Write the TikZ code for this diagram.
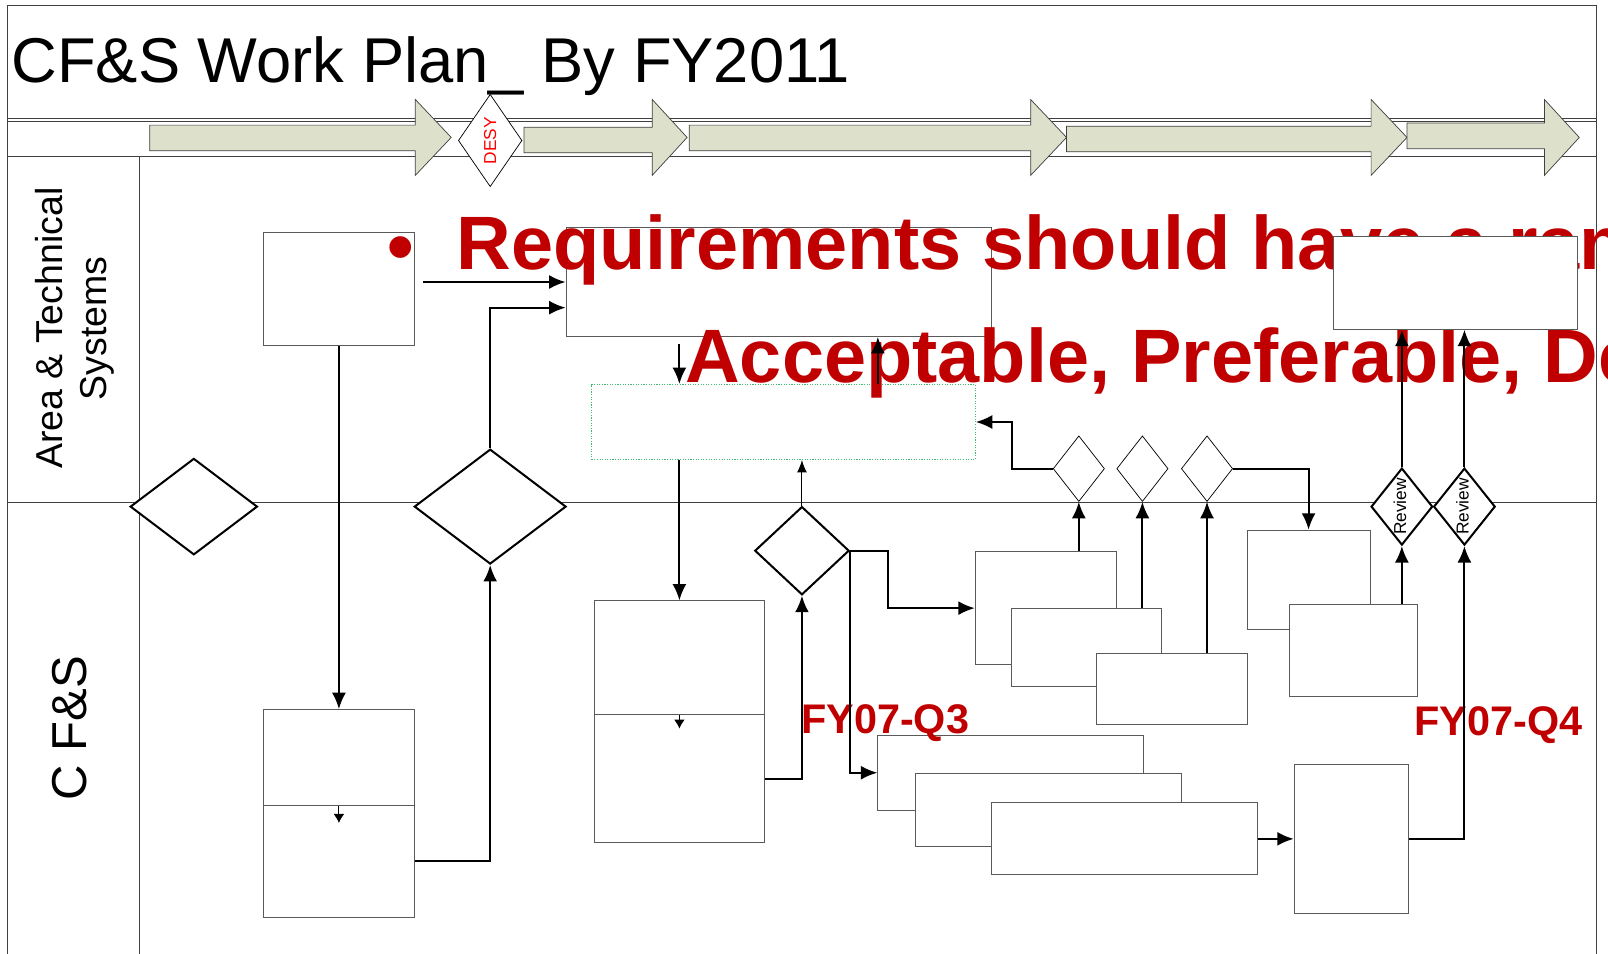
\documentclass[tikz,border=0pt]{standalone}
\usepackage{fontspec}
\setmainfont{Liberation Sans}
\usetikzlibrary{shapes.geometric, arrows.meta, fit}

\definecolor{lanegray}{RGB}{64,64,64}
\definecolor{boxgray}{RGB}{90,90,90}
\definecolor{phasefill}{RGB}{221,225,204}
\definecolor{planred}{RGB}{192,0,0}
\definecolor{dotgreen}{RGB}{60,190,110}

\begin{document}
\begin{tikzpicture}[
  x=0.025cm, y=-0.025cm,
  lane/.style={draw=lanegray, line width=0.8pt},
  phase/.style={draw=lanegray, line width=0.5pt, fill=phasefill},
  task/.style={rectangle, draw=boxgray, line width=0.7pt, fill=white, inner sep=0pt},
  draftbox/.style={rectangle, draw=dotgreen, densely dotted, line width=0.8pt, inner sep=0pt},
  decision/.style={diamond, draw, line width=1.4pt, fill=white, inner sep=0pt},
  gate/.style={diamond, draw, line width=0.5pt, fill=white, inner sep=0pt, minimum width=1.25cm, minimum height=1.6cm},
  review/.style={diamond, draw, line width=1.4pt, fill=white, inner sep=0pt, minimum width=1.5cm, minimum height=1.875cm},
  flow/.style={draw, line width=1.4pt, -{Latex[length=4mm,width=3.4mm]}},
  thinflow/.style={draw, line width=0.7pt, -{Latex[length=3mm,width=2.4mm]}},
  inner/.style={draw, line width=0.7pt, -{Latex[length=2.2mm,width=2.6mm]}},
  lanelabel/.style={rotate=90, align=center, inner sep=0pt},
  small/.style={rotate=90, inner sep=0pt, font=\fontsize{12}{14}\selectfont},
  milestone/.style={text=planred, font=\bfseries\fontsize{28.7}{32}\selectfont, anchor=base west, inner sep=0pt},
  note/.style={text=planred, font=\bfseries\fontsize{52.5}{60}\selectfont, anchor=base west, inner sep=0pt}
]
\useasboundingbox (0,0) rectangle (1568,930);

% lanes
\draw [lane] (7,930) -- (7,5) -- (1557,5) -- (1557,930);
\draw [lane] (7,115.5) -- (1557,115.5);
\draw [lane] (7,118.7) -- (1557,118.7);
\draw [lane, line width=1.2pt] (7,152.5) -- (1557,152.5);
\draw [lane] (136,152.5) -- (136,930);
\draw [lane] (7,490) -- (1557,490);

% phases
\foreach \s/\b/\t/\y in {146/405/440/122, 511/636/670/124, 672/1005/1040/122, 1040/1337/1372/123, 1372/1506/1540/120}
  \draw [phase] (\s,\y) -- (\b,\y) -- (\b,97) -- (\t,134) -- (\b,171) -- (\b,\y+25) -- (\s,\y+25) -- cycle;

\node [anchor=base west, inner sep=0pt, font=\fontsize{43.9}{50}\selectfont] (title) at (11,80) {CF\&S Work Plan\_ By FY2011};
\node [gate, minimum width=1.55cm, minimum height=2.25cm] (desy) at (478,137) {};
\node [small, text=red] at (desy.center) {DESY};

\node [lanelabel, font=\fontsize{26}{30}\selectfont] (arealane) at (73,320) {Area \& Technical\\Systems};
\node [lanelabel, font=\fontsize{34}{40}\selectfont] (cfslane) at (68,710) {C F\&S};

% upper lane
\node [task, fit={(257,227) (404,337)}] (input) {};
\node [task, fit={(552,222) (967,328)}] (reqs) {};
\node [draftbox, fit={(577,375) (951,448)}] (draft) {};
\node [gate] (g1) at (1052,457) {};
\node [gate] (g2) at (1114,457) {};
\node [gate] (g3) at (1177,457) {};

% lower lane
\node [decision, minimum width=3.1cm, minimum height=2.35cm] (start) at (189,494) {};
\node [decision, minimum width=3.7cm, minimum height=2.8cm] (ok1) at (478,494) {};
\node [decision, minimum width=2.3cm, minimum height=2.15cm] (ok2) at (782,537) {};
\node [review] (rev1) at (1367,494) {};
\node [review] (rev2) at (1428,494) {};
\node [small] at (1365,494) {Review};
\node [small] at (1426,494) {Review};

\node [task, fit={(257,692) (404,785)}] (studyA) {};
\node [task, fit={(257,785) (404,895)}] (studyB) {};
\node [task, fit={(580,586) (745,697)}] (devA) {};
\node [task, fit={(580,697) (745,822)}] (devB) {};
\node [task, fit={(951,538) (1089,648)}] (impl1) {};
\node [task, fit={(986,593) (1133,669)}] (impl2) {};
\node [task, fit={(1069,637) (1216,706)}] (impl3) {};
\node [task, fit={(1216,517) (1336,614)}] (test1) {};
\node [task, fit={(1257,589) (1382,679)}] (test2) {};
\node [task, fit={(856,717) (1115,790)}] (doc1) {};
\node [task, fit={(893,754) (1152,825)}] (doc2) {};
\node [task, fit={(967,783) (1226,853)}] (doc3) {};
\node [task, fit={(1262,745) (1373,891)}] (final) {};

\node [milestone] (q3) at (781,715) {FY07-Q3};
\node [milestone] (q4) at (1379,717) {FY07-Q4};

% requirements note
\node [note] (bullet) at (378,266) {\textbullet};
\node [note] (range) at (445,263) {Requirements should have a range};
\node [note] (levels) at (668,373) {Acceptable, Preferable, Desirable};
\node [task, fit={(1300,231) (1538,321)}] (approve) {};

% connectors
\draw [flow, shorten <=2mm] (input.east |- reqs.west) -- (reqs.west);
\draw [flow] (ok1.north) |- ([yshift=-0.625cm]reqs.west);
\draw [flow, shorten <=1.75mm] (reqs.south -| devA.north) -- (draft.north -| devA.north);
\coordinate (back) at ([xshift=2.3cm]draft.north);
\draw [flow] (back) -- (back |- reqs.south);
\draw [flow] (draft.south -| devA.north) -- (devA.north);
\draw [thinflow] (ok2.north) -- (ok2.north |- draft.south);
\draw [flow] (g1.west) -- ++(-40,0) |- (draft.east);
\draw [flow] (g3.east) -| (test1.north);
\draw [flow] (rev1.north) -- (rev1.north |- approve.south);
\draw [flow] (rev2.north) -- (rev2.north |- approve.south);
\draw [flow] (input.south) -- (studyA.north);
\draw [inner] (studyA.south) -- ++(0,17);
\draw [inner] (devA.south) -- ++(0,13);
\draw [flow] (studyB.east) -| (ok1.south);
\draw [flow] (devB.east) -| (ok2.south);
\draw [flow] (ok2.east) -- ++(37,0) |- (impl1.west);
\draw [flow] (ok2.east) |- (doc1.west);
\draw [flow] (impl1.north -| g1.south) -- (g1.south);
\draw [flow] (impl2.north -| g2.south) -- (g2.south);
\draw [flow] (impl3.north -| g3.south) -- (g3.south);
\draw [flow] (test2.north -| rev1.south) -- (rev1.south);
\draw [flow] (doc3.east) -- (doc3.east -| final.west);
\draw [flow] (final.east) -| (rev2.south);
\end{tikzpicture}
\end{document}
